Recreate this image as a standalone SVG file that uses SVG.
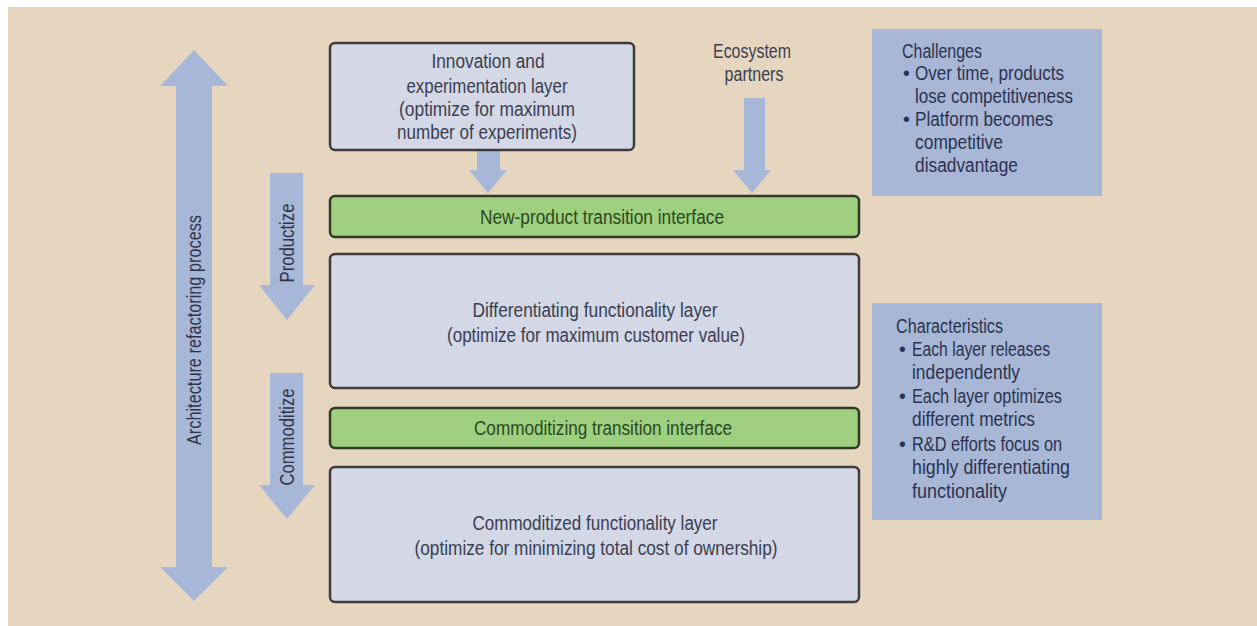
<svg xmlns="http://www.w3.org/2000/svg" width="1257" height="626" viewBox="0 0 1257 626">
  <style>
    text { font-family: "Liberation Sans", Arial, sans-serif; font-size: 20px; }
    .layer { fill: #d3d7e6; stroke: #3f3b3b; stroke-width: 2.5; }
    .iface { fill: #9fd07f; stroke: #2e3a24; stroke-width: 2.5; }
    .note { fill: #a8b7d5; }
    .arrow { fill: #a7b7d7; }
    .lt { fill: #3a3e50; text-anchor: middle; }
    .gt { fill: #2a4820; text-anchor: middle; }
    .nt { fill: #2b3250; font-size: 19.5px; }
    .at { fill: #2f3448; text-anchor: middle; }
  </style>

  <!-- page background -->
  <rect x="0" y="0" width="1257" height="626" fill="#ffffff"/>
  <rect x="8" y="7" width="1249" height="619" fill="#e7d6bf"/>

  <!-- connectors: block arrows -->
  <g id="connectors">
    <!-- architecture refactoring process (double-headed) -->
    <polygon class="arrow" points="194,50 228,86 212,86 212,567 228,567 194,601 160,567 176,567 176,86 160,86"/>
    <!-- productize -->
    <polygon class="arrow" points="270,173 303,173 303,285 315,285 287,320 259,285 270,285"/>
    <!-- commoditize -->
    <polygon class="arrow" points="270,373 303,373 303,485 315,485 287,519 259,485 270,485"/>
    <!-- innovation layer to new-product interface -->
    <polygon class="arrow" points="477,150 500,150 500,170 507,170 488,193 469,170 477,170"/>
    <!-- ecosystem partners to new-product interface -->
    <polygon class="arrow" points="744,98 765,98 765,170 771,170 752,193 733,170 744,170"/>
  </g>

  <g id="label-refactoring">
    <text class="at" transform="translate(201,330) rotate(-90)" textLength="230" lengthAdjust="spacingAndGlyphs">Architecture refactoring process</text>
  </g>
  <g id="label-productize">
    <text class="at" transform="translate(294,243) rotate(-90)" textLength="79" lengthAdjust="spacingAndGlyphs">Productize</text>
  </g>
  <g id="label-commoditize">
    <text class="at" transform="translate(294,437) rotate(-90)" textLength="97" lengthAdjust="spacingAndGlyphs">Commoditize</text>
  </g>

  <g id="innovation-layer">
    <rect class="layer" x="330" y="43" width="304" height="107" rx="5"/>
    <text class="lt" x="488" y="68" textLength="113" lengthAdjust="spacingAndGlyphs">Innovation and</text>
    <text class="lt" x="487" y="93" textLength="161" lengthAdjust="spacingAndGlyphs">experimentation layer</text>
    <text class="lt" x="487" y="116" textLength="176" lengthAdjust="spacingAndGlyphs">(optimize for maximum</text>
    <text class="lt" x="487" y="139" textLength="180" lengthAdjust="spacingAndGlyphs">number of experiments)</text>
  </g>

  <g id="ecosystem-partners">
    <text class="lt" x="752" y="58" textLength="78" lengthAdjust="spacingAndGlyphs">Ecosystem</text>
    <text class="lt" x="754" y="81" textLength="59" lengthAdjust="spacingAndGlyphs">partners</text>
  </g>

  <g id="new-product-interface">
    <rect class="iface" x="330" y="196" width="529" height="41" rx="5"/>
    <text class="gt" x="602" y="224" textLength="244" lengthAdjust="spacingAndGlyphs">New-product transition interface</text>
  </g>

  <g id="differentiating-layer">
    <rect class="layer" x="330" y="254" width="529" height="134" rx="5"/>
    <text class="lt" x="595" y="317" textLength="245" lengthAdjust="spacingAndGlyphs">Differentiating functionality layer</text>
    <text class="lt" x="596" y="342" textLength="298" lengthAdjust="spacingAndGlyphs">(optimize for maximum customer value)</text>
  </g>

  <g id="commoditizing-interface">
    <rect class="iface" x="330" y="408" width="529" height="40" rx="5"/>
    <text class="gt" x="603" y="435" textLength="258" lengthAdjust="spacingAndGlyphs">Commoditizing transition interface</text>
  </g>

  <g id="commoditized-layer">
    <rect class="layer" x="330" y="467" width="529" height="135" rx="5"/>
    <text class="lt" x="595" y="530" textLength="245" lengthAdjust="spacingAndGlyphs">Commoditized functionality layer</text>
    <text class="lt" x="596" y="555" textLength="363" lengthAdjust="spacingAndGlyphs">(optimize for minimizing total cost of ownership)</text>
  </g>

  <g id="challenges">
    <rect class="note" x="872" y="29" width="230" height="167"/>
    <text class="nt" x="902" y="58" textLength="80" lengthAdjust="spacingAndGlyphs">Challenges</text>
    <text class="nt" x="903" y="80">•</text>
    <text class="nt" x="915" y="80" textLength="149" lengthAdjust="spacingAndGlyphs">Over time, products</text>
    <text class="nt" x="915" y="103" textLength="158" lengthAdjust="spacingAndGlyphs">lose competitiveness</text>
    <text class="nt" x="903" y="126">•</text>
    <text class="nt" x="915" y="126" textLength="138" lengthAdjust="spacingAndGlyphs">Platform becomes</text>
    <text class="nt" x="915" y="149" textLength="88" lengthAdjust="spacingAndGlyphs">competitive</text>
    <text class="nt" x="915" y="172" textLength="103" lengthAdjust="spacingAndGlyphs">disadvantage</text>
  </g>

  <g id="characteristics">
    <rect class="note" x="872" y="303" width="230" height="217"/>
    <text class="nt" x="896" y="333" textLength="107" lengthAdjust="spacingAndGlyphs">Characteristics</text>
    <text class="nt" x="899" y="356">•</text>
    <text class="nt" x="912" y="356" textLength="138" lengthAdjust="spacingAndGlyphs">Each layer releases</text>
    <text class="nt" x="912" y="379" textLength="108" lengthAdjust="spacingAndGlyphs">independently</text>
    <text class="nt" x="899" y="403">•</text>
    <text class="nt" x="912" y="403" textLength="150" lengthAdjust="spacingAndGlyphs">Each layer optimizes</text>
    <text class="nt" x="912" y="426" textLength="123" lengthAdjust="spacingAndGlyphs">different metrics</text>
    <text class="nt" x="899" y="451">•</text>
    <text class="nt" x="912" y="451" textLength="150" lengthAdjust="spacingAndGlyphs">R&amp;D efforts focus on</text>
    <text class="nt" x="912" y="474" textLength="158" lengthAdjust="spacingAndGlyphs">highly differentiating</text>
    <text class="nt" x="912" y="498" textLength="95" lengthAdjust="spacingAndGlyphs">functionality</text>
  </g>
</svg>
